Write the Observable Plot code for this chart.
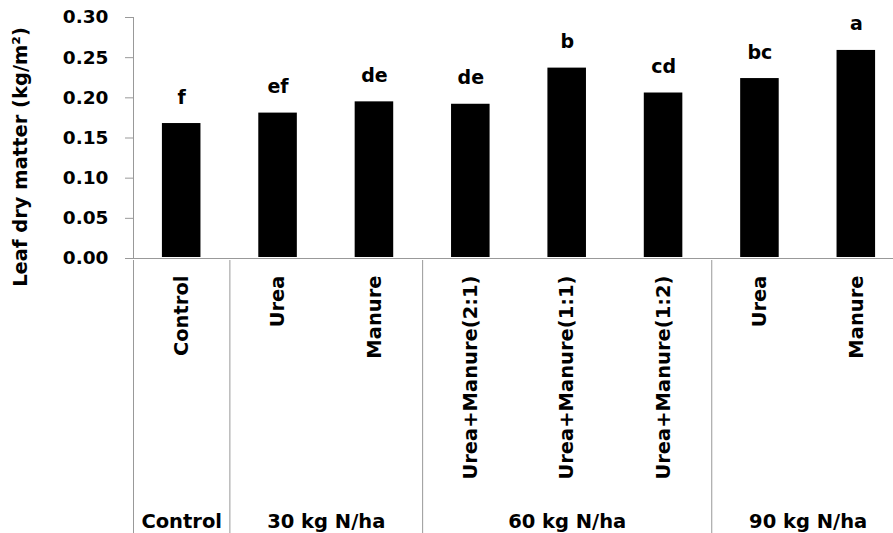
<!DOCTYPE html>
<html>
<head>
<meta charset="utf-8">
<script src="https://cdn.jsdelivr.net/npm/d3@7"></script>
<script src="https://cdn.jsdelivr.net/npm/@observablehq/plot@0.6"></script>
<style>
  html, body { margin: 0; padding: 0; background: #fff; overflow: hidden; width: 893px; height: 533px; }
  #chart { position: relative; width: 893px; height: 533px; }
  #chart svg { display: block; position: absolute; left: 0; }
  #chart svg.top-part { top: 0; overflow: visible; z-index: 2; }
  #chart svg.bottom-part { top: 260px; overflow: hidden; z-index: 1; }
</style>
</head>
<body>
<div id="chart"></div>
<script>
const categories = ["Control", "Urea", "Manure", "Urea+Manure(2:1)", "Urea+Manure(1:1)", "Urea+Manure(1:2)", "Urea", "Manure"];
const groups = ["Control", "30 kg N/ha", "30 kg N/ha", "60 kg N/ha", "60 kg N/ha", "60 kg N/ha", "90 kg N/ha", "90 kg N/ha"];
const values = [0.168, 0.181, 0.195, 0.192, 0.237, 0.206, 0.224, 0.259];
const letters = ["f", "ef", "de", "de", "b", "cd", "bc", "a"];
const yTicks = [0, 0.05, 0.10, 0.15, 0.20, 0.25, 0.30];
const yLabel = "Leaf dry matter (kg/m²)";

const FONT = "DejaVu Sans";
const data = categories.map((c, i) => ({i, cat: c, value: values[i], letter: letters[i], group: groups[i]}));

// group spans derived from group list
const spans = [];
groups.forEach((g, i) => {
  const last = spans[spans.length - 1];
  if (last && last.group === g) last.end = i + 1;
  else spans.push({group: g, start: i, end: i + 1});
});

const xScale = {type: "linear", domain: [0, categories.length], range: [133, 904]};
const axisColor = "#999";

const chartTop = Plot.plot({
  className: "top-part",
  width: 893,
  height: 260,
  marginTop: 17,
  marginBottom: 2,
  marginLeft: 133,
  marginRight: 0,
  style: {fontFamily: FONT, fontWeight: "bold", color: "#000", background: "transparent", overflow: "visible"},
  x: {...xScale, axis: null},
  y: {domain: [0, 0.30], axis: null},
  marks: [
    Plot.axisY({ticks: yTicks, tickFormat: d3.format(".2f"), tickSize: 8, tickPadding: 17,
      fontSize: 18.5, fontWeight: "bold", stroke: axisColor, fill: "#000", label: null}),
    Plot.rectY(data, {x1: d => d.i + 0.3, x2: d => d.i + 0.7, y1: 0, y2: "value", fill: "#000", insetBottom: 1}),
    Plot.ruleY([0], {stroke: axisColor, strokeWidth: 1}),
    Plot.ruleX([0], {stroke: axisColor, strokeWidth: 1}),
    Plot.text(data, {x: d => d.i + 0.5, y: "value", text: "letter", dy: -20, lineAnchor: "bottom",
      fontSize: 19, fontWeight: "bold", fill: "#000"}),
    Plot.text([yLabel], {text: d => d, frameAnchor: "left", dx: -113, dy: 19, rotate: -90,
      fontSize: 19.5, fontWeight: "bold", fill: "#000", textAnchor: "middle"})
  ]
});

const chartBottom = Plot.plot({
  className: "bottom-part",
  width: 893,
  height: 273,
  marginTop: 0,
  marginBottom: 0,
  marginLeft: 133,
  marginRight: 0,
  style: {fontFamily: FONT, fontWeight: "bold", color: "#000", background: "transparent"},
  x: {...xScale, axis: null},
  y: {domain: [0, 1], axis: null},
  marks: [
    Plot.ruleX(spans.map(s => s.start).concat([categories.length]), {stroke: axisColor, strokeWidth: 1}),
    Plot.text(data, {x: d => d.i + 0.5, text: "cat", frameAnchor: "top", rotate: -90, textAnchor: "end",
      lineAnchor: "middle", dy: 15, fontSize: 19.5, fontWeight: "bold", fill: "#000"}),
    Plot.text(spans, {x: s => (s.start + s.end) / 2, text: "group", frameAnchor: "bottom", lineAnchor: "bottom",
      dy: -6, fontSize: 19.5, fontWeight: "bold", fill: "#000"})
  ]
});

const el = document.getElementById("chart");
el.appendChild(chartTop);
el.appendChild(chartBottom);
</script>
</body>
</html>
